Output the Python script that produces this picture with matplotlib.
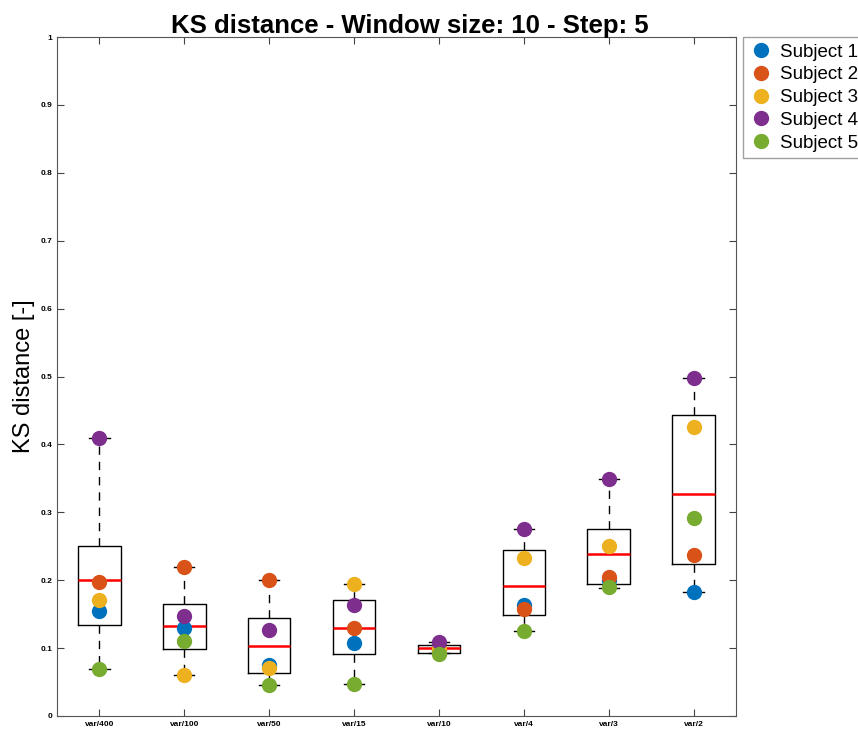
import numpy as np
import matplotlib
matplotlib.use("Agg")
import matplotlib.pyplot as plt

plt.rcParams['font.family'] = ['Liberation Sans', 'DejaVu Sans']

groups = ['var/400', 'var/100', 'var/50', 'var/15', 'var/10', 'var/4', 'var/3', 'var/2']

# box statistics
whislo = [0.069, 0.061, 0.045, 0.047, 0.093, 0.125, 0.189, 0.183]
q1 = [0.134, 0.098, 0.064, 0.092, 0.093, 0.149, 0.194, 0.224]
med = [0.200, 0.133, 0.103, 0.129, 0.100, 0.191, 0.238, 0.327]
q3 = [0.251, 0.165, 0.144, 0.171, 0.105, 0.244, 0.276, 0.443]
whishi = [0.410, 0.219, 0.200, 0.195, 0.109, 0.276, 0.349, 0.498]

# per-subject values
subjects = ['Subject 1', 'Subject 2', 'Subject 3', 'Subject 4', 'Subject 5']
subj1 = [0.155, 0.129, 0.075, 0.108, 0.097, 0.164, 0.200, 0.183]
subj2 = [0.197, 0.219, 0.200, 0.129, 0.099, 0.157, 0.204, 0.237]
subj3 = [0.171, 0.061, 0.070, 0.195, 0.098, 0.232, 0.251, 0.426]
subj4 = [0.410, 0.147, 0.127, 0.163, 0.109, 0.276, 0.349, 0.498]
subj5 = [0.069, 0.110, 0.045, 0.047, 0.092, 0.125, 0.190, 0.292]
colors = ['#0072BD', '#D95319', '#EDB120', '#7E2F8E', '#77AC30']

pos = np.arange(1, len(groups) + 1)

fig = plt.figure(figsize=(8.58, 7.34), dpi=100)
ax = fig.add_axes([57 / 858, 18 / 734, 679 / 858, 679 / 734])

stats = []
for i in range(len(groups)):
    stats.append({'whislo': whislo[i], 'q1': q1[i], 'med': med[i],
                  'q3': q3[i], 'whishi': whishi[i], 'fliers': []})

ax.bxp(stats, positions=pos, widths=0.5, capwidths=0.24, showfliers=False,
       boxprops=dict(color='black', linewidth=1),
       whiskerprops=dict(color='black', linewidth=1, linestyle=(0, (6, 5))),
       capprops=dict(color='black', linewidth=1),
       medianprops=dict(color='red', linewidth=1.8))

for vals, c, name in zip([subj1, subj2, subj3, subj4, subj5], colors, subjects):
    ax.plot(pos, vals, 'o', color=c, markersize=10, label=name, zorder=3)

ax.set_xlim(0.5, 8.5)
ax.set_ylim(0, 1)
ax.set_xticks(pos)
ax.set_xticklabels(groups, fontsize=6, fontweight='bold')
yt = np.round(np.arange(0, 1.01, 0.1), 1)
ax.set_yticks(yt)
ax.set_yticklabels(['0'] + [f'{v:.1f}' for v in yt[1:-1]] + ['1'], fontsize=6, fontweight='bold')
ax.tick_params(direction='in', length=5, top=True, right=True, color='#444444')
for s in ax.spines.values():
    s.set_color('#555555')

ax.set_title('KS distance - Window size: 10 - Step: 5', fontsize=18.5, fontweight='bold',
             pad=3, x=0.52)
ax.set_ylabel('KS distance [-]', fontsize=17, labelpad=4)

leg = ax.legend(loc='upper left', fontsize=13.5, handletextpad=0.4, borderaxespad=0,
                frameon=True, fancybox=False, edgecolor='#888888', labelspacing=0.3,
                handlelength=1.2, borderpad=0.35)
leg.set_bbox_to_anchor((743 / 858, 697 / 734), transform=fig.transFigure)

fig.savefig('out.png', dpi=100)
